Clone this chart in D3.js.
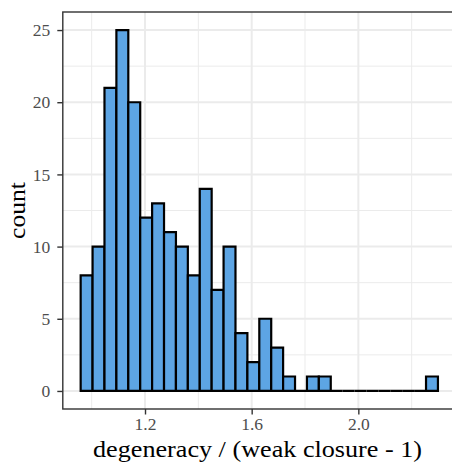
<!DOCTYPE html>
<html>
<head>
<meta charset="utf-8">
<script src="https://cdn.jsdelivr.net/npm/d3@7/dist/d3.min.js"></script>
<style>
  html, body { margin: 0; padding: 0; background: #fff; }
  svg { display: block; }
  svg text { font-family: 'Liberation Serif', 'Times New Roman', serif !important; }
</style>
</head>
<body>
<svg id="chart" width="452" height="463"></svg>
<script>
// Histogram bins: first bin's lower edge, bin width, and count per bin
const binStart = 0.9587;
const binWidth = 0.04466;
const counts = [8, 10, 21, 25, 20, 12, 13, 11, 10, 8, 14, 7, 10, 4, 2, 5, 3, 1, 0, 1, 1, 0, 0, 0, 0, 0, 0, 0, 0, 1];

const xTicks = [1.2, 1.6, 2.0];
const xMinor = [1.0, 1.4, 1.8, 2.2];
const yTicks = [0, 5, 10, 15, 20, 25];
const yMinor = [2.5, 7.5, 12.5, 17.5, 22.5];

const bins = counts.map((c, i) => ({ x0: binStart + i * binWidth, x1: binStart + (i + 1) * binWidth, count: c }));

const xMin = binStart, xMax = binStart + counts.length * binWidth;
const xPad = (xMax - xMin) * 0.05;
const yMaxData = d3.max(counts);
const yPad = yMaxData * 0.05;

const panel = { left: 62.8, right: 455.8, top: 12, bottom: 409 };

const x = d3.scaleLinear().domain([xMin - xPad, xMax + xPad]).range([panel.left, panel.right]);
const y = d3.scaleLinear().domain([-yPad, yMaxData + yPad]).range([panel.bottom, panel.top]);

const svg = d3.select("#chart");
const pw = panel.right - panel.left, ph = panel.bottom - panel.top;

const grid = svg.append("g");
// minor grid
grid.selectAll(".vmin").data(xMinor).join("line")
  .attr("x1", d => x(d)).attr("x2", d => x(d)).attr("y1", panel.top).attr("y2", panel.bottom)
  .attr("stroke", "#EBEBEB").attr("stroke-width", 1);
grid.selectAll(".hmin").data(yMinor).join("line")
  .attr("x1", panel.left).attr("x2", panel.right).attr("y1", d => y(d)).attr("y2", d => y(d))
  .attr("stroke", "#EBEBEB").attr("stroke-width", 1);
// major grid
grid.selectAll(".vmaj").data(xTicks).join("line")
  .attr("x1", d => x(d)).attr("x2", d => x(d)).attr("y1", panel.top).attr("y2", panel.bottom)
  .attr("stroke", "#EBEBEB").attr("stroke-width", 2);
grid.selectAll(".hmaj").data(yTicks).join("line")
  .attr("x1", panel.left).attr("x2", panel.right).attr("y1", d => y(d)).attr("y2", d => y(d))
  .attr("stroke", "#EBEBEB").attr("stroke-width", 2);

// bars drawn as closed paths so empty bins still show their outline on the baseline
svg.append("g").selectAll("path").data(bins).join("path")
  .attr("d", d => {
    const p = d3.path();
    p.moveTo(x(d.x0), y(0));
    p.lineTo(x(d.x0), y(d.count));
    p.lineTo(x(d.x1), y(d.count));
    p.lineTo(x(d.x1), y(0));
    p.closePath();
    return p.toString();
  })
  .attr("fill", "#5DA5E4")
  .attr("stroke", "#000")
  .attr("stroke-width", 2.2)
  .attr("stroke-linejoin", "miter");

// panel border
svg.append("rect")
  .attr("x", panel.left).attr("y", panel.top).attr("width", pw).attr("height", ph)
  .attr("fill", "none").attr("stroke", "#333").attr("stroke-width", 1.4);

// y axis
const yAxis = d3.axisLeft(y).tickValues(yTicks).tickSize(5.5).tickPadding(7).tickFormat(d3.format("d"));
const gy = svg.append("g").attr("transform", `translate(${panel.left},0)`).call(yAxis)
  .attr("font-family", null);
gy.select(".domain").remove();
gy.selectAll(".tick line").attr("stroke", "#333").attr("stroke-width", 1.4);
gy.selectAll(".tick text").attr("fill", "#4D4D4D").style("font-size", "17.5px");

// x axis
const xAxis = d3.axisBottom(x).tickValues(xTicks).tickSize(5.5).tickPadding(3).tickFormat(d3.format(".1f"));
const gx = svg.append("g").attr("transform", `translate(0,${panel.bottom})`).call(xAxis)
  .attr("font-family", null);
gx.select(".domain").remove();
gx.selectAll(".tick line").attr("stroke", "#333").attr("stroke-width", 1.4);
gx.selectAll(".tick text").attr("fill", "#4D4D4D").style("font-size", "17.5px");

// axis titles
svg.append("text")
  .attr("x", (panel.left + panel.right) / 2 - 1.8).attr("y", 457)
  .attr("text-anchor", "middle").style("font-size", "23px").attr("fill", "#000")
  .attr("textLength", 329).attr("lengthAdjust", "spacingAndGlyphs")
  .text("degeneracy / (weak closure - 1)");

svg.append("text")
  .attr("transform", `translate(25,${(panel.top + panel.bottom) / 2}) rotate(-90)`)
  .attr("text-anchor", "middle").style("font-size", "23px").attr("fill", "#000")
  .attr("textLength", 57).attr("lengthAdjust", "spacingAndGlyphs")
  .text("count");
</script>
</body>
</html>
